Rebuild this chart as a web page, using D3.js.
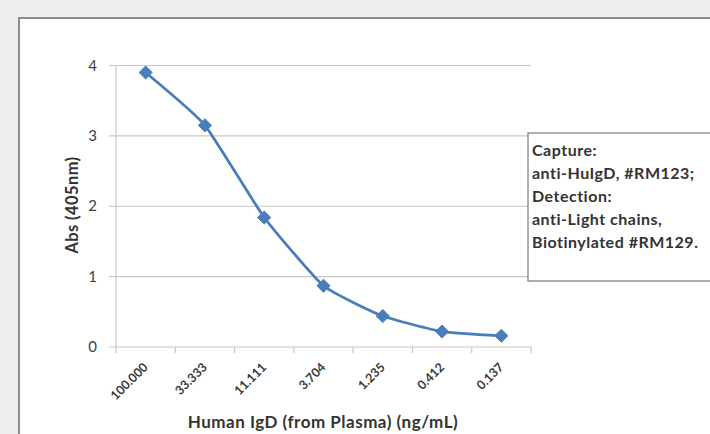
<!DOCTYPE html>
<html>
<head>
<meta charset="utf-8">
<script src="https://cdn.jsdelivr.net/npm/d3@7"></script>
<style>
  body { margin: 0; background: #eeeeee; }
  svg { display: block; font-family: Lato, "Open Sans", sans-serif; }
</style>
</head>
<body>
<svg id="chart" width="710" height="434"></svg>
<script>
// data
const concentrations = ["100.000", "33.333", "11.111", "3.704", "1.235", "0.412", "0.137"];
const absValues = [3.90, 3.15, 1.84, 0.87, 0.44, 0.22, 0.16];
const yTicks = [0, 1, 2, 3, 4];
const legendLines = ["Capture:", "anti-HuIgD, #RM123;", "Detection:", "anti-Light chains,", "Biotinylated #RM129."];

var svg = d3.select("#chart");
const width = +svg.attr("width");
const height = +svg.attr("height");

// plot area
const plotLeft = 116, plotRight = 531, plotTop = 65.5, plotBottom = 347;

// white panel
svg.append("rect")
    .attr("x", 19).attr("y", 18)
    .attr("width", width).attr("height", height)
    .style("fill", "#ffffff")
    .style("stroke", "#8c8c8c")
    .style("stroke-width", 2);

var xScale = d3.scaleBand()
    .domain(concentrations)
    .range([plotLeft, plotRight]);

var yScale = d3.scaleLinear()
    .domain([0, 4])
    .range([plotBottom, plotTop]);

// gridlines
svg.append("g")
    .selectAll("line")
    .data(yTicks)
    .join("line")
    .attr("x1", plotLeft - 7)
    .attr("x2", plotRight)
    .attr("y1", d => yScale(d))
    .attr("y2", d => yScale(d))
    .style("stroke", "#c8c8c8")
    .style("stroke-width", 1.2);

// y axis line
svg.append("line")
    .attr("x1", plotLeft).attr("x2", plotLeft)
    .attr("y1", plotTop).attr("y2", plotBottom)
    .style("stroke", "#c8c8c8")
    .style("stroke-width", 1.2);

// y tick labels
svg.append("g")
    .selectAll("text")
    .data(yTicks)
    .join("text")
    .attr("x", 97)
    .attr("y", d => yScale(d) + 5)
    .attr("text-anchor", "end")
    .style("font-size", "15px")
    .style("fill", "#404040")
    .text(d => d);

// x ticks at band edges
var edges = concentrations.map(c => xScale(c)).concat([plotRight]);
svg.append("g")
    .selectAll("line")
    .data(edges)
    .join("line")
    .attr("x1", d => d).attr("x2", d => d)
    .attr("y1", plotBottom).attr("y2", plotBottom + 6)
    .style("stroke", "#c8c8c8")
    .style("stroke-width", 1.2);

// x tick labels, rotated
svg.append("g")
    .selectAll("text")
    .data(concentrations)
    .join("text")
    .attr("transform", d => "translate(" + (xScale(d) + xScale.bandwidth() / 2 + 3) + "," + (plotBottom + 21) + ")rotate(-45)")
    .attr("text-anchor", "end")
    .style("font-size", "12.5px")
    .style("font-weight", "bold")
    .style("fill", "#3a3a3a")
    .text(d => d);

// line (Excel-style smoothing, kept mild)
var points = concentrations.map((c, i) => [xScale(c) + xScale.bandwidth() / 2, yScale(absValues[i])]);
svg.append("path")
    .attr("d", d3.line().curve(d3.curveCardinal.tension(0.55))(points))
    .style("fill", "none")
    .style("stroke", "#4a7ebb")
    .style("stroke-width", 2.8);

// diamond markers
svg.append("g")
    .selectAll("path")
    .data(points)
    .join("path")
    .attr("transform", d => "translate(" + d[0] + "," + d[1] + ")")
    .attr("d", d3.symbol().type(d3.symbolDiamond2).size(110))
    .style("fill", "#4a7ebb")
    .style("stroke", "#4a7ebb");

// axis titles
svg.append("text")
    .attr("transform", "translate(78,205)rotate(-90)")
    .attr("text-anchor", "middle")
    .style("font-size", "16.5px")
    .style("font-weight", "bold")
    .style("letter-spacing", "0.4px")
    .style("fill", "#333333")
    .text("Abs (405nm)");

svg.append("text")
    .attr("x", 323).attr("y", 428)
    .attr("text-anchor", "middle")
    .style("font-size", "17px")
    .style("font-weight", "bold")
    .style("letter-spacing", "0.5px")
    .style("fill", "#333333")
    .text("Human IgD (from Plasma) (ng/mL)");

// legend box
svg.append("rect")
    .attr("x", 528).attr("y", 133)
    .attr("width", 200).attr("height", 148)
    .style("fill", "#ffffff")
    .style("stroke", "#7a7a7a")
    .style("stroke-width", 1.2);

svg.append("g")
    .selectAll("text")
    .data(legendLines)
    .join("text")
    .attr("x", 532)
    .attr("y", (d, i) => 156 + i * 23)
    .style("font-size", "16px")
    .style("font-weight", "bold")
    .style("letter-spacing", "0.5px")
    .style("fill", "#333333")
    .text(d => d);
</script>
</body>
</html>
